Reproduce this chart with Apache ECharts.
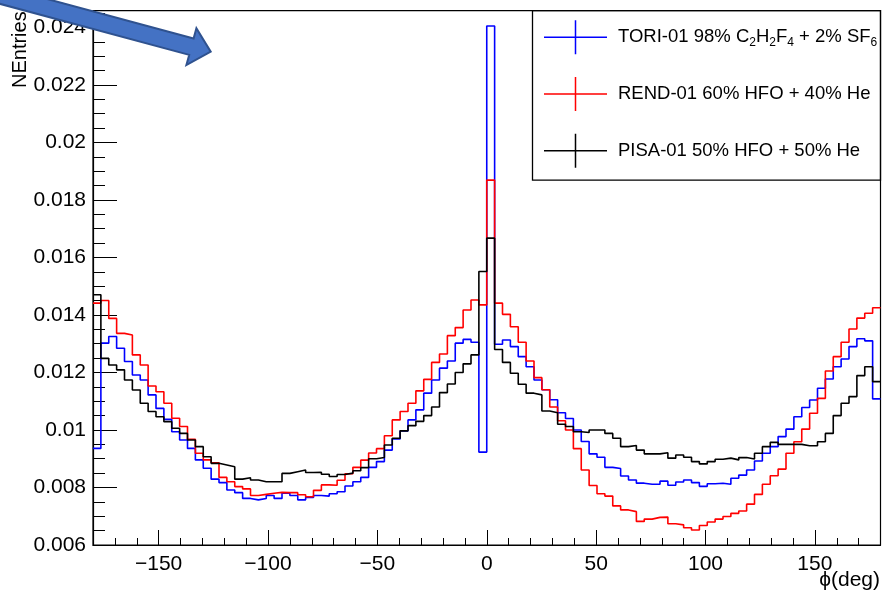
<!DOCTYPE html>
<html>
<head>
<meta charset="utf-8">
<script src="https://cdn.jsdelivr.net/npm/echarts@6/dist/echarts.min.js"></script>
<style>
html, body { margin: 0; padding: 0; background: #fff; }
#main { width: 896px; height: 593px; }
</style>
</head>
<body>
<div id="main"></div>
<script>
// histogram binning: 100 bins over phi in [-180, 180]
var phiMin = -180, phiMax = 180, nBins = 100;
var yMin = 0.006, yMax = 0.02458;

var xMajor = [-150, -100, -50, 0, 50, 100, 150];
var yMajor = [0.006, 0.008, 0.01, 0.012, 0.014, 0.016, 0.018, 0.02, 0.022, 0.024];

var seriesNames = ['TORI-01', 'REND-01', 'PISA-01'];
var seriesColors = ['#0000ff', '#ff0000', '#000000'];

// TORI-01 98% C2H2F4 + 2% SF6
var toriVals = [
    0.00936, 0.01302, 0.01325, 0.01284, 0.01238, 0.01191, 0.01174, 0.01122, 0.01075, 0.01037,
    0.00994, 0.00965, 0.00936, 0.00896, 0.00867, 0.00829, 0.00817, 0.00791, 0.00782, 0.00762,
    0.00757, 0.00762, 0.00772, 0.00762, 0.00780, 0.00772, 0.00757, 0.00765, 0.00772, 0.00770,
    0.00778, 0.00785, 0.00805, 0.00820, 0.00835, 0.00870, 0.00890, 0.00930, 0.00969, 0.00997,
    0.01035, 0.01070, 0.01128, 0.01174, 0.01215, 0.01240, 0.01302, 0.01315, 0.01305, 0.00923,
    0.02405, 0.01298, 0.01313, 0.01290, 0.01255, 0.01220, 0.01174, 0.01140, 0.01105, 0.01060,
    0.01040, 0.01000, 0.00960, 0.00917, 0.00905, 0.00870, 0.00866, 0.00840, 0.00826, 0.00815,
    0.00811, 0.00811, 0.00822, 0.00808, 0.00819, 0.00826, 0.00817, 0.00804, 0.00813, 0.00815,
    0.00811, 0.00832, 0.00843, 0.00861, 0.00892, 0.00919, 0.00942, 0.00977, 0.01003, 0.01046,
    0.01078, 0.01104, 0.01145, 0.01177, 0.01220, 0.01247, 0.01290, 0.01317, 0.01310, 0.01108
];
// REND-01 60% HFO + 40% He
var rendVals = [
    0.01441, 0.01450, 0.01388, 0.01336, 0.01330, 0.01261, 0.01226, 0.01153, 0.01133, 0.01093,
    0.01041, 0.01012, 0.00968, 0.00919, 0.00896, 0.00886, 0.00835, 0.00820, 0.00803, 0.00795,
    0.00772, 0.00776, 0.00780, 0.00783, 0.00782, 0.00782, 0.00775, 0.00768, 0.00790, 0.00809,
    0.00808, 0.00825, 0.00848, 0.00870, 0.00895, 0.00920, 0.00935, 0.00980, 0.01035, 0.01064,
    0.01093, 0.01136, 0.01176, 0.01235, 0.01264, 0.01328, 0.01356, 0.01417, 0.01452, 0.01435,
    0.01869, 0.01441, 0.01402, 0.01359, 0.01305, 0.01240, 0.01182, 0.01140, 0.01080, 0.01032,
    0.01000, 0.00935, 0.00861, 0.00807, 0.00778, 0.00770, 0.00736, 0.00722, 0.00716, 0.00682,
    0.00690, 0.00696, 0.00697, 0.00674, 0.00670, 0.00660, 0.00652, 0.00668, 0.00680, 0.00690,
    0.00699, 0.00710, 0.00718, 0.00742, 0.00776, 0.00811, 0.00841, 0.00864, 0.00919, 0.00959,
    0.01003, 0.01058, 0.01110, 0.01205, 0.01255, 0.01305, 0.01351, 0.01389, 0.01406, 0.01425
];
// PISA-01 50% HFO + 50% He
var pisaVals = [
    0.01470, 0.01249, 0.01226, 0.01209, 0.01174, 0.01139, 0.01093, 0.01064, 0.01046, 0.01029,
    0.01006, 0.00988, 0.00965, 0.00942, 0.00907, 0.00884, 0.00878, 0.00872, 0.00829, 0.00834,
    0.00826, 0.00820, 0.00820, 0.00820, 0.00849, 0.00855, 0.00861, 0.00852, 0.00853, 0.00846,
    0.00838, 0.00845, 0.00850, 0.00858, 0.00869, 0.00900, 0.00904, 0.00948, 0.00971, 0.00997,
    0.01015, 0.01030, 0.01050, 0.01080, 0.01130, 0.01160, 0.01200, 0.01230, 0.01261, 0.01551,
    0.01667, 0.01280, 0.01235, 0.01197, 0.01159, 0.01128, 0.01122, 0.01066, 0.01060, 0.01020,
    0.01012, 0.00994, 0.00991, 0.01000, 0.01000, 0.00988, 0.00971, 0.00942, 0.00946, 0.00930,
    0.00917, 0.00917, 0.00921, 0.00902, 0.00913, 0.00905, 0.00890, 0.00882, 0.00890, 0.00898,
    0.00902, 0.00896, 0.00904, 0.00899, 0.00919, 0.00942, 0.00957, 0.00950, 0.00950, 0.00950,
    0.00945, 0.00945, 0.00959, 0.00988, 0.01050, 0.01093, 0.01116, 0.01189, 0.01220, 0.01168
];

var legendLabels = {
    'TORI-01': '{n|TORI-01 98% C}{s|2}{n|H}{s|2}{n|F}{s|4}{n| + 2% SF}{s|6}',
    'REND-01': '{n|REND-01 60% HFO + 40% He}',
    'PISA-01': '{n|PISA-01 50% HFO + 50% He}'
};

var font = 'Liberation Sans, Arial, Helvetica, sans-serif';

// histogram outline: one point per low bin edge plus the last high edge
function histPoints(vals) {
    var w = (phiMax - phiMin) / nBins;
    var pts = [];
    for (var i = 0; i <= nBins; i++) {
        pts.push([phiMin + i * w, vals[Math.min(i, nBins - 1)]]);
    }
    return pts;
}

function fmtY(v) {
    return String(parseFloat(v.toFixed(4)));
}
function fmtX(v) {
    return String(v).replace('-', '\u2212');
}

var allVals = [toriVals, rendVals, pisaVals];
var series = [];
for (var k = 0; k < seriesNames.length; k++) {
    series.push({
        name: seriesNames[k],
        type: 'line',
        step: 'end',
        showSymbol: false,
        xAxisIndex: 0,
        yAxisIndex: 0,
        color: seriesColors[k],
        lineStyle: { color: seriesColors[k], width: 1.6 },
        data: histPoints(allVals[k])
    });
}

// ROOT-style "+" legend marker
var crossIcon = 'path://M0,16.25 L63,16.25 L63,17.75 L0,17.75 Z M30.75,0 L32.25,0 L32.25,34 L30.75,34 Z';

var chart = echarts.init(document.getElementById('main'), null, { renderer: 'canvas' });
chart.setOption({
    animation: false,
    backgroundColor: '#ffffff',
    grid: {
        left: 93, right: 15.5, top: 10.7, bottom: 48,
        show: true, borderColor: '#000', borderWidth: 1.2, backgroundColor: 'transparent'
    },
    legend: {
        orient: 'vertical',
        left: 544,
        top: 20.3,
        padding: 0,
        itemWidth: 63,
        itemHeight: 34,
        itemGap: 22.7,
        icon: crossIcon,
        selectedMode: false,
        data: seriesNames,
        formatter: function (name) { return legendLabels[name]; },
        textStyle: {
            color: '#000',
            fontFamily: font,
            padding: [0, 0, 0, 6],
            rich: {
                n: { fontSize: 18.5, fontFamily: font, color: '#000', lineHeight: 22 },
                s: { fontSize: 12, fontFamily: font, color: '#000', lineHeight: 13, verticalAlign: 'bottom' }
            }
        }
    },
    xAxis: [{
        type: 'value',
        min: phiMin, max: phiMax, interval: 10,
        axisLine: { show: true, onZero: false, lineStyle: { color: '#000', width: 1.2 } },
        axisTick: { show: true, inside: true, length: 7, lineStyle: { color: '#000', width: 1 } },
        axisLabel: { show: false },
        splitLine: { show: false }
    }, {
        type: 'value',
        min: phiMin, max: phiMax,
        position: 'bottom',
        axisLine: { show: false, onZero: false },
        axisTick: { show: true, inside: true, length: 15, customValues: xMajor, lineStyle: { color: '#000', width: 1 } },
        axisLabel: {
            show: true, customValues: xMajor, formatter: fmtX,
            color: '#000', fontSize: 21, fontFamily: font, margin: 9
        },
        splitLine: { show: false }
    }],
    yAxis: [{
        type: 'value',
        min: yMin, max: yMax, interval: 0.0005,
        axisLine: { show: true, onZero: false, lineStyle: { color: '#000', width: 1.2 } },
        axisTick: { show: true, inside: true, length: 12, lineStyle: { color: '#000', width: 1 } },
        axisLabel: { show: false },
        splitLine: { show: false }
    }, {
        type: 'value',
        min: yMin, max: yMax,
        position: 'left',
        axisLine: { show: false, onZero: false },
        axisTick: { show: true, inside: true, length: 24, customValues: yMajor, lineStyle: { color: '#000', width: 1 } },
        axisLabel: {
            show: true, customValues: yMajor, formatter: fmtY,
            color: '#000', fontSize: 21, fontFamily: font, margin: 7
        },
        splitLine: { show: false }
    }],
    graphic: [
        {   // legend frame
            type: 'rect', z: 10,
            shape: { x: 532.5, y: 10.7, width: 348, height: 169.5 },
            style: { fill: 'none', stroke: '#000', lineWidth: 1.3 }
        },
        {   // y axis title
            type: 'text', z: 10,
            x: 30, y: 88, rotation: Math.PI / 2,
            style: { text: 'NEntries', fill: '#000', font: '20px ' + font, textAlign: 'left', textVerticalAlign: 'bottom' }
        },
        {   // x axis title
            type: 'text', z: 10,
            x: 880, y: 591,
            style: { text: '\u03d5(deg)', fill: '#000', font: '21px ' + font, textAlign: 'right', textVerticalAlign: 'bottom' }
        },
        {   // annotation arrow
            type: 'polygon', z: 100,
            shape: { points: [[-47.8, -26.6], [193.6, 38.5], [196.4, 28.3], [210.7, 51.7], [186.4, 65.1], [189.2, 54.9], [-52.2, -10.2]] },
            style: { fill: '#4472c4', stroke: '#2f528f', lineWidth: 2 }
        }
    ],
    series: series
});
</script>
</body>
</html>
